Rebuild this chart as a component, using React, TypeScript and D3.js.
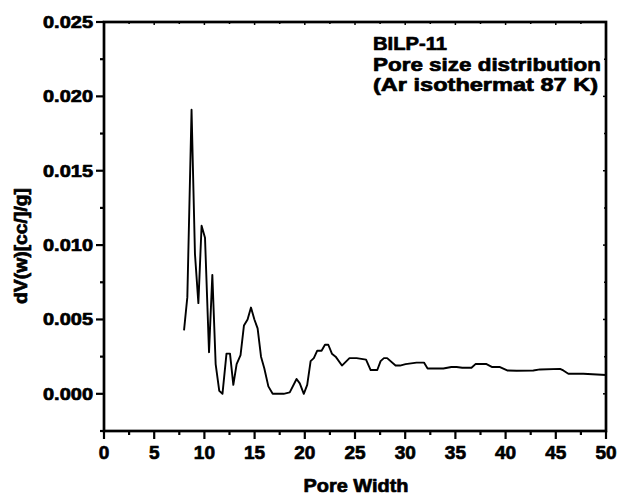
import React from "react";
import * as d3 from "d3";

// Pore size distribution (Ar isotherm at 87 K) for BILP-11
const poreWidth = [
  7.97, 8.3, 8.72, 9.06, 9.4, 9.72, 10.06, 10.46, 10.79, 11.12, 11.48, 11.8,
  12.2, 12.55, 12.88, 13.21, 13.6, 13.94, 14.3, 14.64, 14.98, 15.3, 15.64,
  15.97, 16.37, 16.8, 17.9, 18.5, 19.18, 19.5, 19.9, 20.24, 20.58, 20.9, 21.24,
  21.67, 22.01, 22.34, 22.7, 23.07, 23.7, 24.45, 25.16, 26.1, 26.56, 27.22,
  27.55, 27.88, 28.2, 29.04, 29.48, 30.04, 31.13, 31.87, 32.23, 33.8, 34.6,
  35.12, 35.68, 36.6, 37.0, 38.1, 38.67, 39.44, 40.16, 41.1, 42.76, 43.43,
  45.42, 45.75, 46.25, 47.74, 50.0,
];
const dVw = [
  0.00427, 0.0065, 0.0191, 0.0094, 0.0061, 0.0113, 0.0105, 0.0028, 0.008,
  0.002, 0.0002, 0.0, 0.0027, 0.0027, 0.0006, 0.002, 0.0026, 0.0046, 0.005,
  0.0058, 0.005, 0.0044, 0.0025, 0.0017, 0.0005, 0.0, 0.0, 0.0001, 0.001,
  0.0007, 0.0, 0.0006, 0.0022, 0.0024, 0.0029, 0.0029, 0.0033, 0.0033, 0.0027,
  0.0025, 0.0019, 0.0024, 0.0024, 0.0023, 0.0016, 0.0016, 0.0022, 0.0024,
  0.0024, 0.0019, 0.0019, 0.002, 0.0021, 0.0021, 0.0017, 0.0017, 0.0018,
  0.0018, 0.00175, 0.00175, 0.002, 0.002, 0.0018, 0.0018, 0.00157, 0.00155,
  0.00157, 0.00164, 0.00168, 0.00157, 0.00135, 0.00135, 0.00127,
];

const xTicks = [0, 5, 10, 15, 20, 25, 30, 35, 40, 45, 50];
const xMinorTicks = [2.5, 7.5, 12.5, 17.5, 22.5, 27.5, 32.5, 37.5, 42.5, 47.5];
const yTicks = [0, 0.005, 0.01, 0.015, 0.02, 0.025];
const yMinorTicks = [-0.0025, 0.0025, 0.0075, 0.0125, 0.0175, 0.0225];

const annotation = ["BILP-11", "Pore size distribution", "(Ar isothermat 87 K)"];
const xTitle = "Pore Width";
const yTitle = "dV(w)[cc/]/g]";

const W = 623;
const H = 497;
const left = 104;
const right = 606;
const top = 22;
const bottom = 431;

const FONT = "'Liberation Sans', Arial, sans-serif";
const heavy = { stroke: "#000", strokeWidth: 0.7, strokeLinejoin: "round" as const };

export default function App() {
  const x = d3.scaleLinear().domain([0, 50]).range([left, right]);
  const y = d3.scaleLinear().domain([-0.0025, 0.025]).range([bottom, top]);

  const pts: [number, number][] = poreWidth.map((w, i) => [w, dVw[i]]);
  const line = d3
    .line<[number, number]>()
    .x((d) => x(d[0]))
    .y((d) => y(d[1]));

  const annWidths = [74, 228, 225];
  const annBase = [50, 71, 91];

  return (
    <div style={{ position: "absolute", left: 0, top: 0 }}>
      <svg width={W} height={H} style={{ display: "block", background: "#fff" }}>
        <rect x={0} y={0} width={W} height={H} fill="#fff" />

        {/* curve */}
        <path d={line(pts) || ""} fill="none" stroke="#000" strokeWidth={1.9} strokeLinejoin="round" />

        {/* frame */}
        <rect
          x={left}
          y={top}
          width={right - left}
          height={bottom - top}
          fill="none"
          stroke="#000"
          strokeWidth={2.7}
        />

        {/* bottom axis ticks (outward) + top ticks (inward) */}
        {xTicks.map((t) => (
          <g key={"xt" + t}>
            <line x1={x(t)} x2={x(t)} y1={bottom} y2={bottom + 8} stroke="#000" strokeWidth={2.2} />
            <line x1={x(t)} x2={x(t)} y1={top} y2={top + 3} stroke="#000" strokeWidth={1.5} />
            <text
              x={x(t)}
              y={459}
              textAnchor="middle"
              fontFamily={FONT}
              fontWeight="bold"
              fontSize={19}
              fill="#000"
              {...heavy}
            >
              {t}
            </text>
          </g>
        ))}
        {xMinorTicks.map((t) => (
          <g key={"xm" + t}>
            <line x1={x(t)} x2={x(t)} y1={bottom} y2={bottom + 4} stroke="#000" strokeWidth={2.2} />
            <line x1={x(t)} x2={x(t)} y1={top} y2={top + 2} stroke="#000" strokeWidth={1.5} />
          </g>
        ))}

        {/* left axis ticks (outward) + right ticks (inward) */}
        {yTicks.map((t) => (
          <g key={"yt" + t}>
            <line x1={left - 8} x2={left} y1={y(t)} y2={y(t)} stroke="#000" strokeWidth={2.2} />
            <line x1={right - 3} x2={right} y1={y(t)} y2={y(t)} stroke="#000" strokeWidth={1.5} />
            <text
              x={93}
              y={y(t) + 6}
              textAnchor="end"
              fontFamily={FONT}
              fontWeight="bold"
              fontSize={17}
              textLength={50}
              lengthAdjust="spacingAndGlyphs"
              fill="#000"
              {...heavy}
            >
              {t.toFixed(3)}
            </text>
          </g>
        ))}
        {yMinorTicks.map((t) => (
          <g key={"ym" + t}>
            <line x1={left - 4} x2={left} y1={y(t)} y2={y(t)} stroke="#000" strokeWidth={2.2} />
            <line x1={right - 2} x2={right} y1={y(t)} y2={y(t)} stroke="#000" strokeWidth={1.5} />
          </g>
        ))}

        {/* axis titles */}
        <text
          x={356}
          y={492}
          textAnchor="middle"
          fontFamily={FONT}
          fontWeight="bold"
          fontSize={19}
          textLength={105}
          lengthAdjust="spacingAndGlyphs"
          fill="#000"
          {...heavy}
        >
          {xTitle}
        </text>
        <text
          transform="translate(27,246) rotate(-90)"
          textAnchor="middle"
          fontFamily={FONT}
          fontWeight="bold"
          fontSize={18}
          textLength={116}
          lengthAdjust="spacingAndGlyphs"
          fill="#000"
          {...heavy}
        >
          {yTitle}
        </text>

        {/* annotation */}
        {annotation.map((s, i) => (
          <text
            key={s}
            x={373}
            y={annBase[i]}
            fontFamily={FONT}
            fontWeight="bold"
            fontSize={19}
            textLength={annWidths[i]}
            lengthAdjust="spacingAndGlyphs"
            fill="#000"
            {...heavy}
          >
            {s}
          </text>
        ))}
      </svg>
    </div>
  );
}
